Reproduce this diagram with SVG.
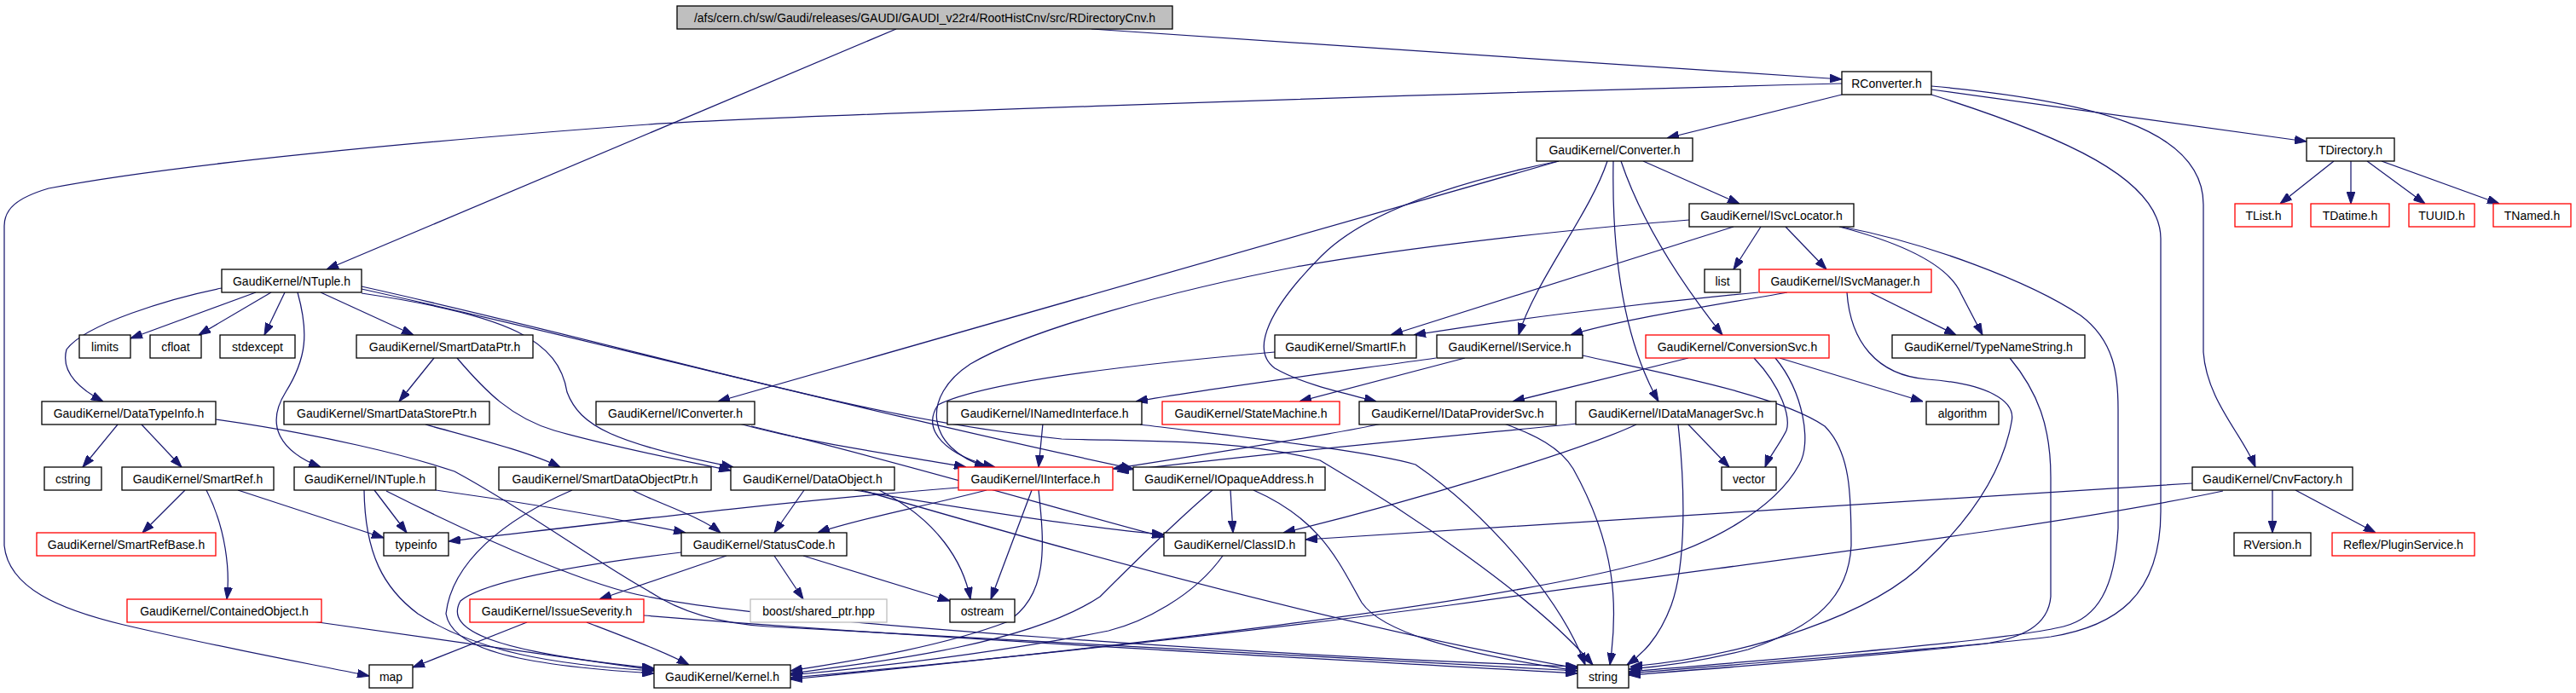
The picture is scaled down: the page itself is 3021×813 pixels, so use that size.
<svg xmlns="http://www.w3.org/2000/svg" width="3021" height="813" viewBox="0 0 3021 813">
<style>
.n rect{fill:#ffffff;stroke:#000000;stroke-width:1.3}
.n.red rect{stroke:#ff0000}
.n.gray rect{stroke:#bfbfbf}
.n.root rect{fill:#bfbfbf}
.n text{font-family:"Liberation Sans",Arial,sans-serif;font-size:14px;fill:#000000;text-anchor:middle}
#edges path{fill:none;stroke:#191970;stroke-width:1.25;marker-end:url(#ah)}
</style>
<defs>
<marker id="ah" markerUnits="userSpaceOnUse" markerWidth="14" markerHeight="10" viewBox="0 0 13 9" refX="13" refY="4.5" orient="auto">
<path d="M0,0 L13,4.5 L0,9 z" fill="#191970" stroke="#191970"/>
</marker>
</defs>
<rect x="0" y="0" width="3021" height="813" fill="#ffffff"/>
<g id="edges">
<path d="M1051,34 L383,316"/>
<path d="M1280,34 C1500,50 1900,75 2160,93"/>
<path d="M2160,98 C1600,112 900,137 760,146 C500,165 200,193 57,221 C20,232 5,245 5,265 L5,640 C10,690 70,715 145,733 C260,760 360,778 433,793"/>
<path d="M2160,111 L1955,162"/>
<path d="M2265,105 L2705,166"/>
<path d="M2265,101 C2450,118 2584,150 2584,240 L2584,413 C2588,470 2630,510 2645,548"/>
<path d="M2265,111 C2420,160 2534,210 2534,280 L2534,600 C2534,700 2480,735 2405,747 C2300,760 2050,778 1910,790"/>
<path d="M2737,189 L2674,239"/>
<path d="M2757,189 L2757,239"/>
<path d="M2776,189 L2844,239"/>
<path d="M2793,189 L2931,239"/>
<path d="M1927,189 L2040,239"/>
<path d="M1828,189 L842,471"/>
<path d="M1828,189 C1700,215 1600,250 1550,300 C1490,360 1465,410 1495,432 C1530,452 1580,462 1614,471"/>
<path d="M1885,189 C1865,250 1800,330 1781,393"/>
<path d="M1892,189 C1890,300 1905,400 1945,471"/>
<path d="M1901,189 C1925,260 1970,330 2020,393"/>
<path d="M2065,266 L2033,316"/>
<path d="M2094,266 L2142,316"/>
<path d="M2033,266 L1631,393"/>
<path d="M1981,258 C1850,268 1650,290 1520,313 C1380,340 1210,385 1138,427 C1080,465 1085,525 1157,548"/>
<path d="M2157,266 C2230,285 2285,310 2300,345 L2325,393"/>
<path d="M2160,266 C2260,285 2380,330 2440,370 C2480,400 2484,440 2484,480 L2484,620 C2480,690 2460,725 2420,735 C2350,752 2100,772 1910,788"/>
<path d="M2062,343 C1900,358 1750,378 1658,393"/>
<path d="M2096,343 C2000,360 1900,375 1842,393"/>
<path d="M2193,343 L2294,393"/>
<path d="M2166,343 C2170,400 2200,440 2260,445 C2330,450 2365,470 2359,495 C2350,545 2320,600 2260,657 C2200,720 2050,770 1912,782"/>
<path d="M2357,420 C2390,460 2405,500 2405,560 L2405,700 C2402,735 2370,748 2330,755 C2200,770 2000,785 1910,792"/>
<path d="M1684,420 C1600,432 1420,455 1332,471"/>
<path d="M1718,420 L1524,471"/>
<path d="M1856,417 C1960,440 2090,465 2140,500 C2170,530 2171,580 2171,640 C2168,700 2130,735 2050,762 C2000,775 1950,782 1910,785"/>
<path d="M1621,497 C1550,512 1420,532 1305,550"/>
<path d="M1764,497 C1800,510 1830,525 1845,550 C1895,640 1898,710 1888,780"/>
<path d="M1849,497 C1700,512 1500,530 1310,553"/>
<path d="M1919,498 C1850,530 1650,590 1505,625"/>
<path d="M1980,498 L2028,548"/>
<path d="M1968,498 C1976,570 1978,660 1960,710 C1945,750 1925,768 1908,780"/>
<path d="M1980,420 L1774,471"/>
<path d="M2057,420 C2090,455 2100,490 2095,505 C2085,525 2075,535 2070,548"/>
<path d="M2082,420 C2115,460 2125,520 2110,545 C2080,600 2000,640 1936,658 C1750,710 1300,760 927,797"/>
<path d="M2087,420 L2255,471"/>
<path d="M1223,497 L1218,548"/>
<path d="M1337,498 C1450,512 1600,528 1660,545 C1740,600 1830,700 1859,780"/>
<path d="M1495,413 C1300,430 1150,450 1100,475 C1080,505 1110,535 1167,548"/>
<path d="M867,497 C950,520 1060,535 1133,548"/>
<path d="M881,500 C1050,540 1250,600 1365,630"/>
<path d="M300,343 L153,397"/>
<path d="M318,343 L233,393"/>
<path d="M334,343 L310,393"/>
<path d="M376,343 L485,393"/>
<path d="M260,338 C200,350 100,380 78,410 C70,440 100,460 121,471"/>
<path d="M349,343 C362,390 360,420 335,460 C310,500 330,530 376,548"/>
<path d="M424,344 C600,370 655,400 665,460 C680,500 720,520 860,548"/>
<path d="M424,339 C700,400 1000,480 1329,550"/>
<path d="M424,336 C800,420 1000,490 1245,515 C1350,518 1450,515 1548,540 C1650,600 1800,700 1868,780"/>
<path d="M509,420 L468,471"/>
<path d="M536,420 C570,460 600,490 650,505 C720,525 800,540 857,552"/>
<path d="M499,498 C560,515 620,530 657,548"/>
<path d="M138,498 L97,548"/>
<path d="M166,498 L213,548"/>
<path d="M253,492 C380,510 480,535 533,553 C620,600 700,660 760,693 C800,720 850,732 900,735 C1300,755 1600,775 1850,787"/>
<path d="M217,575 L167,625"/>
<path d="M242,575 C265,620 270,670 266,703"/>
<path d="M279,575 L450,631"/>
<path d="M439,575 L477,625"/>
<path d="M427,575 C428,650 450,690 490,720 C560,765 650,780 767,787"/>
<path d="M511,575 C620,590 730,610 804,625"/>
<path d="M453,576 C580,640 700,690 760,700 C900,730 1500,770 1850,782"/>
<path d="M742,575 C770,590 820,605 845,625"/>
<path d="M671,575 C590,610 530,660 523,720 C530,760 600,780 767,790"/>
<path d="M943,575 L908,625"/>
<path d="M1002,575 C1150,600 1280,620 1365,627"/>
<path d="M1031,575 C1100,610 1130,660 1138,703"/>
<path d="M1010,575 C1300,660 1600,740 1850,784"/>
<path d="M1157,575 C1080,595 1000,610 959,625"/>
<path d="M1210,575 L1162,703"/>
<path d="M1218,575 C1225,640 1230,700 1180,730 C1100,760 1000,775 927,787"/>
<path d="M1124,572 C900,590 700,615 526,635"/>
<path d="M1443,575 L1446,625"/>
<path d="M1422,575 C1380,610 1330,660 1290,700 C1200,760 1000,780 927,790"/>
<path d="M1470,575 C1550,610 1570,660 1597,707 C1620,740 1700,765 1850,787"/>
<path d="M852,652 L703,703"/>
<path d="M908,652 L942,703"/>
<path d="M942,652 L1114,705"/>
<path d="M799,648 C700,660 570,680 540,705 C520,740 580,765 767,784"/>
<path d="M1434,652 C1400,700 1340,730 1300,740 C1150,770 1000,785 927,792"/>
<path d="M366,729 L767,786"/>
<path d="M618,730 L484,783"/>
<path d="M688,730 C740,750 780,765 808,780"/>
<path d="M755,722 C1100,750 1500,770 1850,790"/>
<path d="M2571,567 C2300,585 1800,615 1531,633"/>
<path d="M2607,576 C2400,620 2050,660 1700,710 C1400,750 1100,780 927,795"/>
<path d="M2665,575 L2665,625"/>
<path d="M2692,575 L2786,625"/>
</g>
<g id="n_root" class="n root"><rect x="794" y="7" width="581" height="27"/><text x="1084.5" y="25.5">/afs/cern.ch/sw/Gaudi/releases/GAUDI/GAUDI_v22r4/RootHistCnv/src/RDirectoryCnv.h</text></g>
<g id="n_RConverter" class="n"><rect x="2160" y="84" width="105" height="27"/><text x="2212.5" y="102.5">RConverter.h</text></g>
<g id="n_Converter" class="n"><rect x="1802" y="162" width="183" height="27"/><text x="1893.5" y="180.5">GaudiKernel/Converter.h</text></g>
<g id="n_TDirectory" class="n"><rect x="2705" y="162" width="103" height="27"/><text x="2756.5" y="180.5">TDirectory.h</text></g>
<g id="n_ISvcLocator" class="n"><rect x="1981" y="239" width="193" height="27"/><text x="2077.5" y="257.5">GaudiKernel/ISvcLocator.h</text></g>
<g id="n_TList" class="n red"><rect x="2621" y="239" width="67" height="27"/><text x="2654.5" y="257.5">TList.h</text></g>
<g id="n_TDatime" class="n red"><rect x="2710" y="239" width="92" height="27"/><text x="2756" y="257.5">TDatime.h</text></g>
<g id="n_TUUID" class="n red"><rect x="2825" y="239" width="77" height="27"/><text x="2863.5" y="257.5">TUUID.h</text></g>
<g id="n_TNamed" class="n red"><rect x="2924" y="239" width="91" height="27"/><text x="2969.5" y="257.5">TNamed.h</text></g>
<g id="n_NTuple" class="n"><rect x="260" y="316" width="164" height="27"/><text x="342" y="334.5">GaudiKernel/NTuple.h</text></g>
<g id="n_list" class="n"><rect x="1999" y="316" width="42" height="27"/><text x="2020" y="334.5">list</text></g>
<g id="n_ISvcManager" class="n red"><rect x="2063" y="316" width="202" height="27"/><text x="2164" y="334.5">GaudiKernel/ISvcManager.h</text></g>
<g id="n_limits" class="n"><rect x="93" y="393" width="60" height="27"/><text x="123" y="411.5">limits</text></g>
<g id="n_cfloat" class="n"><rect x="176" y="393" width="60" height="27"/><text x="206" y="411.5">cfloat</text></g>
<g id="n_stdexcept" class="n"><rect x="258" y="393" width="88" height="27"/><text x="302" y="411.5">stdexcept</text></g>
<g id="n_SmartDataPtr" class="n"><rect x="418" y="393" width="207" height="27"/><text x="521.5" y="411.5">GaudiKernel/SmartDataPtr.h</text></g>
<g id="n_SmartIF" class="n"><rect x="1495" y="393" width="166" height="27"/><text x="1578" y="411.5">GaudiKernel/SmartIF.h</text></g>
<g id="n_IService" class="n"><rect x="1685" y="393" width="171" height="27"/><text x="1770.5" y="411.5">GaudiKernel/IService.h</text></g>
<g id="n_ConversionSvc" class="n red"><rect x="1930" y="393" width="215" height="27"/><text x="2037.5" y="411.5">GaudiKernel/ConversionSvc.h</text></g>
<g id="n_TypeNameString" class="n"><rect x="2219" y="393" width="226" height="27"/><text x="2332" y="411.5">GaudiKernel/TypeNameString.h</text></g>
<g id="n_DataTypeInfo" class="n"><rect x="49" y="471" width="204" height="27"/><text x="151" y="489.5">GaudiKernel/DataTypeInfo.h</text></g>
<g id="n_SmartDataStorePtr" class="n"><rect x="333" y="471" width="241" height="27"/><text x="453.5" y="489.5">GaudiKernel/SmartDataStorePtr.h</text></g>
<g id="n_IConverter" class="n"><rect x="699" y="471" width="186" height="27"/><text x="792" y="489.5">GaudiKernel/IConverter.h</text></g>
<g id="n_INamedInterface" class="n"><rect x="1111" y="471" width="228" height="27"/><text x="1225" y="489.5">GaudiKernel/INamedInterface.h</text></g>
<g id="n_StateMachine" class="n red"><rect x="1363" y="471" width="208" height="27"/><text x="1467" y="489.5">GaudiKernel/StateMachine.h</text></g>
<g id="n_IDataProviderSvc" class="n"><rect x="1594" y="471" width="231" height="27"/><text x="1709.5" y="489.5">GaudiKernel/IDataProviderSvc.h</text></g>
<g id="n_IDataManagerSvc" class="n"><rect x="1848" y="471" width="235" height="27"/><text x="1965.5" y="489.5">GaudiKernel/IDataManagerSvc.h</text></g>
<g id="n_algorithm" class="n"><rect x="2259" y="471" width="85" height="27"/><text x="2301.5" y="489.5">algorithm</text></g>
<g id="n_cstring" class="n"><rect x="52" y="548" width="67" height="27"/><text x="85.5" y="566.5">cstring</text></g>
<g id="n_SmartRef" class="n"><rect x="143" y="548" width="178" height="27"/><text x="232" y="566.5">GaudiKernel/SmartRef.h</text></g>
<g id="n_INTuple" class="n"><rect x="345" y="548" width="166" height="27"/><text x="428" y="566.5">GaudiKernel/INTuple.h</text></g>
<g id="n_SmartDataObjectPtr" class="n"><rect x="585" y="548" width="249" height="27"/><text x="709.5" y="566.5">GaudiKernel/SmartDataObjectPtr.h</text></g>
<g id="n_DataObject" class="n"><rect x="857" y="548" width="192" height="27"/><text x="953" y="566.5">GaudiKernel/DataObject.h</text></g>
<g id="n_IInterface" class="n red"><rect x="1124" y="548" width="181" height="27"/><text x="1214.5" y="566.5">GaudiKernel/IInterface.h</text></g>
<g id="n_IOpaqueAddress" class="n"><rect x="1329" y="548" width="225" height="27"/><text x="1441.5" y="566.5">GaudiKernel/IOpaqueAddress.h</text></g>
<g id="n_vector" class="n"><rect x="2019" y="548" width="64" height="27"/><text x="2051" y="566.5">vector</text></g>
<g id="n_CnvFactory" class="n"><rect x="2571" y="548" width="188" height="27"/><text x="2665" y="566.5">GaudiKernel/CnvFactory.h</text></g>
<g id="n_SmartRefBase" class="n red"><rect x="43" y="625" width="210" height="27"/><text x="148" y="643.5">GaudiKernel/SmartRefBase.h</text></g>
<g id="n_typeinfo" class="n"><rect x="450" y="625" width="76" height="27"/><text x="488" y="643.5">typeinfo</text></g>
<g id="n_StatusCode" class="n"><rect x="799" y="625" width="194" height="27"/><text x="896" y="643.5">GaudiKernel/StatusCode.h</text></g>
<g id="n_ClassID" class="n"><rect x="1365" y="625" width="166" height="27"/><text x="1448" y="643.5">GaudiKernel/ClassID.h</text></g>
<g id="n_RVersion" class="n"><rect x="2620" y="625" width="90" height="27"/><text x="2665" y="643.5">RVersion.h</text></g>
<g id="n_PluginService" class="n red"><rect x="2735" y="625" width="167" height="27"/><text x="2818.5" y="643.5">Reflex/PluginService.h</text></g>
<g id="n_ContainedObject" class="n red"><rect x="149" y="703" width="228" height="27"/><text x="263" y="721.5">GaudiKernel/ContainedObject.h</text></g>
<g id="n_boost" class="n gray"><rect x="880" y="703" width="160" height="27"/><text x="960" y="721.5">boost/shared_ptr.hpp</text></g>
<g id="n_ostream" class="n"><rect x="1114" y="703" width="76" height="27"/><text x="1152" y="721.5">ostream</text></g>
<g id="n_IssueSeverity" class="n red"><rect x="551" y="703" width="204" height="27"/><text x="653" y="721.5">GaudiKernel/IssueSeverity.h</text></g>
<g id="n_map" class="n"><rect x="433" y="780" width="51" height="27"/><text x="458.5" y="798.5">map</text></g>
<g id="n_Kernel" class="n"><rect x="767" y="780" width="160" height="27"/><text x="847" y="798.5">GaudiKernel/Kernel.h</text></g>
<g id="n_string" class="n"><rect x="1850" y="780" width="60" height="27"/><text x="1880" y="798.5">string</text></g>
</svg>
